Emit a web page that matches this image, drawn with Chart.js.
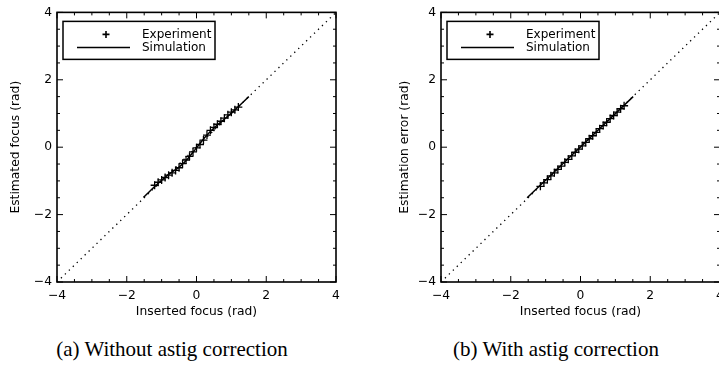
<!DOCTYPE html>
<html>
<head>
  <meta charset="UTF-8">
  <title>Focus estimation</title>
  <script src="https://cdn.jsdelivr.net/npm/chart.js"></script>
  <style>
    html, body { margin: 0; padding: 0; background: #fff; overflow: hidden; }
    body { width: 719px; height: 365px; position: relative; }
    .panel { position: absolute; top: 0; }
    .caption {
      position: absolute;
      font-family: "Liberation Serif", "Times New Roman", serif;
      font-size: 21px;
      color: #000;
      white-space: nowrap;
      transform: translateX(-50%);
    }
  </style>
</head>
<body>
<div class="panel" style="left:0;width:360px;height:330px"><canvas id="chartA"></canvas></div>
<div class="panel" style="left:360px;width:380px;height:330px"><canvas id="chartB"></canvas></div>
<div class="caption" style="left:172px;top:337px">(a) Without astig correction</div>
<div class="caption" style="left:556px;top:337px">(b) With astig correction</div>

<script>
  // axis range and labelled ticks (same on both axes)
  const axisMin = -4;
  const axisMax = 4;
  const tickLabels = [-4, -2, 0, 2, 4];

  // diagonal reference line y = x
  const diagX = [-4, 4];
  const diagY = [-4, 4];

  // (a) without astig correction
  const expXA = [-1.2, -1.1, -1.0, -0.9, -0.8, -0.7, -0.6, -0.5, -0.4, -0.3, -0.2, -0.1, 0.0,
                 0.1, 0.2, 0.3, 0.4, 0.5, 0.6, 0.7, 0.8, 0.9, 1.0, 1.1, 1.2];
  const expYA = [-1.13, -1.04, -0.97, -0.90, -0.83, -0.76, -0.69, -0.61, -0.49, -0.38, -0.27, -0.14, -0.02,
                 0.08, 0.21, 0.36, 0.50, 0.59, 0.68, 0.77, 0.86, 0.96, 1.04, 1.11, 1.19];
  const simXA = [-1.52, -1.25, -1.0, -0.75, -0.5, -0.25, 0.0, 0.25, 0.5, 0.75, 1.0, 1.25, 1.5];
  const simYA = [-1.49, -1.22, -0.98, -0.77, -0.59, -0.34, -0.02, 0.30, 0.57, 0.79, 1.01, 1.25, 1.5];

  // (b) with astig correction
  const expXB = [-1.15, -1.05, -0.95, -0.85, -0.75, -0.65, -0.55, -0.45, -0.35, -0.25, -0.15, -0.05, 0.05,
                 0.15, 0.25, 0.35, 0.45, 0.55, 0.65, 0.75, 0.85, 0.95, 1.05, 1.15, 1.25];
  const expYB = [-1.16, -1.06, -0.96, -0.85, -0.76, -0.66, -0.56, -0.45, -0.36, -0.26, -0.15, -0.06, 0.04,
                 0.14, 0.25, 0.34, 0.44, 0.55, 0.64, 0.74, 0.85, 0.94, 1.04, 1.14, 1.23];
  const simXB = [-1.53, 1.51];
  const simYB = [-1.50, 1.50];

  const zip = (xs, ys) => xs.map((x, i) => ({ x: x, y: ys[i] }));
  const minus = v => String(v).replace('-', '\u2212');
  const axisFont = { family: "DejaVu Sans", size: 12.3, lineHeight: 1.2 };

  // frame, inward ticks on all four sides, and the boxed legend
  const framePlugin = {
    id: 'frame',
    afterDraw(chart) {
      const { ctx, chartArea: a, scales } = chart;
      ctx.save();
      ctx.strokeStyle = '#000';
      ctx.lineWidth = 1;
      for (let v = axisMin; v <= axisMax; v += 0.5) {
        const len = v % 2 === 0 ? 6 : 3;
        const px = scales.x.getPixelForValue(v);
        const py = scales.y.getPixelForValue(v);
        ctx.beginPath();
        ctx.moveTo(px, a.bottom); ctx.lineTo(px, a.bottom - len);
        ctx.moveTo(px, a.top); ctx.lineTo(px, a.top + len);
        ctx.moveTo(a.left, py); ctx.lineTo(a.left + len, py);
        ctx.moveTo(a.right, py); ctx.lineTo(a.right - len, py);
        ctx.stroke();
      }
      ctx.lineWidth = 1.6;
      ctx.strokeRect(a.left, a.top, a.right - a.left, a.bottom - a.top);

      // legend
      const bx = a.left + 6, by = a.top + 9;
      ctx.fillStyle = '#fff';
      ctx.fillRect(bx, by, 152, 38);
      ctx.lineWidth = 1.5;
      ctx.strokeRect(bx, by, 152, 38);
      const exp = chart.data.datasets[0];
      const sim = chart.data.datasets[1];
      ctx.strokeStyle = exp.borderColor;
      ctx.lineWidth = 1.6;
      Chart.helpers.drawPoint(ctx, { pointStyle: exp.pointStyle, radius: 3.5, borderWidth: 1.6 },
        a.left + 49, a.top + 22);
      ctx.strokeStyle = sim.borderColor;
      ctx.lineWidth = sim.borderWidth;
      ctx.beginPath();
      ctx.moveTo(a.left + 20, a.top + 35);
      ctx.lineTo(a.left + 73, a.top + 35);
      ctx.stroke();
      ctx.fillStyle = '#000';
      ctx.font = '12px "DejaVu Sans"';
      ctx.textBaseline = 'middle';
      ctx.fillText(exp.label, a.left + 85, a.top + 22);
      ctx.fillText(sim.label, a.left + 85, a.top + 35);
      ctx.restore();
    }
  };

  function makeChart(id, expPts, simPts, yTitle, yWidth, rightPad, yTitlePad) {
    return new Chart(document.getElementById(id), {
      type: 'scatter',
      data: {
        datasets: [
          {
            label: 'Experiment',
            data: expPts,
            pointStyle: 'cross',
            pointRadius: 4,
            borderColor: '#000',
            borderWidth: 1.3,
            showLine: false
          },
          {
            label: 'Simulation',
            data: simPts,
            showLine: true,
            pointRadius: 0,
            borderColor: '#000',
            borderWidth: 1.5,
            tension: 0.3
          },
          {
            label: 'y = x',
            data: zip(diagX, diagY),
            showLine: true,
            pointRadius: 0,
            borderColor: '#000',
            borderWidth: 1.3,
            borderDash: [1.3, 4.2]
          }
        ]
      },
      options: {
        responsive: true,
        maintainAspectRatio: false,
        animation: false,
        layout: { padding: { left: 0, top: 10, right: rightPad, bottom: 0 } },
        plugins: { legend: { display: false }, tooltip: { enabled: false } },
        scales: {
          x: {
            type: 'linear', min: axisMin, max: axisMax,
            afterBuildTicks: s => { s.ticks = tickLabels.map(v => ({ value: v })); },
            afterFit: s => { s.height = 48; },
            grid: { display: false, drawTicks: false },
            border: { display: false },
            ticks: { color: '#000', font: axisFont, padding: 6, maxRotation: 0, callback: minus },
            title: { display: true, text: 'Inserted focus (rad)', color: '#000', font: axisFont,
                     padding: { top: 0, bottom: 10.8 } }
          },
          y: {
            type: 'linear', min: axisMin, max: axisMax,
            afterBuildTicks: s => { s.ticks = tickLabels.map(v => ({ value: v })); },
            afterFit: s => { s.width = yWidth; },
            grid: { display: false, drawTicks: false },
            border: { display: false },
            ticks: { color: '#000', font: axisFont, padding: 5, callback: minus },
            title: { display: true, text: yTitle, color: '#000', font: axisFont,
                     padding: { top: yTitlePad, bottom: 0 } }
          }
        }
      },
      plugins: [framePlugin]
    });
  }

  makeChart('chartA', zip(expXA, expYA), zip(simXA, simYA), 'Estimated focus (rad)', 57, 24, 8.6);
  makeChart('chartB', zip(expXB, expYB), zip(simXB, simYB), 'Estimation error (rad)', 81, 20, 37.6);
</script>
</body>
</html>
